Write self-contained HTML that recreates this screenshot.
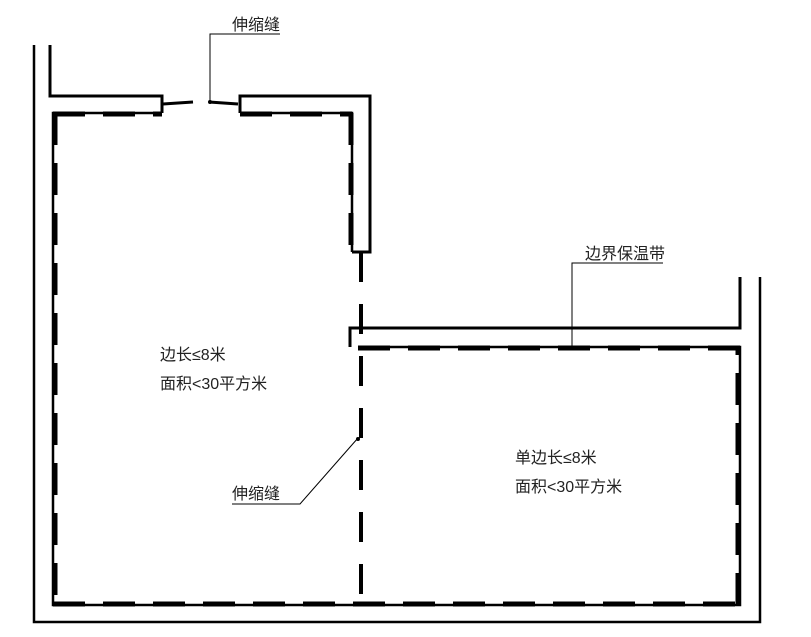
<!DOCTYPE html>
<html><head><meta charset="utf-8"><style>
body{margin:0;background:#fff;}
svg{display:block}
text{font-family:"Liberation Sans","Noto Sans CJK SC",sans-serif;font-size:16px;fill:#222}
</style></head><body>
<svg width="811" height="637" viewBox="0 0 811 637" xmlns="http://www.w3.org/2000/svg">
<g fill="none" stroke="#000">
<!-- outer walls -->
<polyline points="34,45 34,622 760,622 760,277" stroke-width="2.5"/>
<polyline points="50,45 50,96 162,96 162,113" stroke-width="3"/>
<polyline points="240,113 240,96 370,96 370,252 352,252" stroke-width="3"/>
<polyline points="740,277 740,328 350,328 350,347" stroke-width="3"/>
<!-- joint pieces -->
<line x1="163" y1="104" x2="193" y2="102" stroke-width="3"/>
<line x1="209" y1="102" x2="238" y2="104" stroke-width="3"/>
<!-- rooms solid thin -->
<polyline points="162,113 53,113 53,605 740,605 740,347 358,347" stroke-width="2.5"/>
<polyline points="240,113 352,113 352,252" stroke-width="2.5"/>
<!-- dashes -->
<g stroke-width="5" stroke-dasharray="32,18">
<line x1="55" y1="113" x2="55" y2="605"/>
<line x1="53" y1="604" x2="740" y2="604"/>
<line x1="738" y1="605" x2="738" y2="347"/>
<line x1="740" y1="348" x2="358" y2="348"/>
<line x1="53" y1="114" x2="162" y2="114"/>
<line x1="240" y1="114" x2="352" y2="114"/>
<line x1="351" y1="113" x2="351" y2="252"/>
</g>
<line x1="361" y1="252" x2="361" y2="605" stroke-width="4" stroke-dasharray="30,22"/>
<!-- leaders -->
<polyline points="210,102 210,34 280,34" stroke-width="1"/>
<polyline points="572,347 572,263 663,263" stroke-width="1"/>
<polyline points="358,438 300,504 232,504" stroke-width="1"/>
</g>
<circle cx="210" cy="102" r="2" fill="#000"/>
<circle cx="358" cy="439" r="2" fill="#000"/>
<text x="232" y="30">伸缩缝</text>
<text x="585" y="259">边界保温带</text>
<text x="232" y="499">伸缩缝</text>
<text x="160" y="360">边长≤8米</text>
<text x="160" y="389">面积&lt;30平方米</text>
<text x="515" y="463">单边长≤8米</text>
<text x="515" y="492">面积&lt;30平方米</text>
</svg>
</body></html>
